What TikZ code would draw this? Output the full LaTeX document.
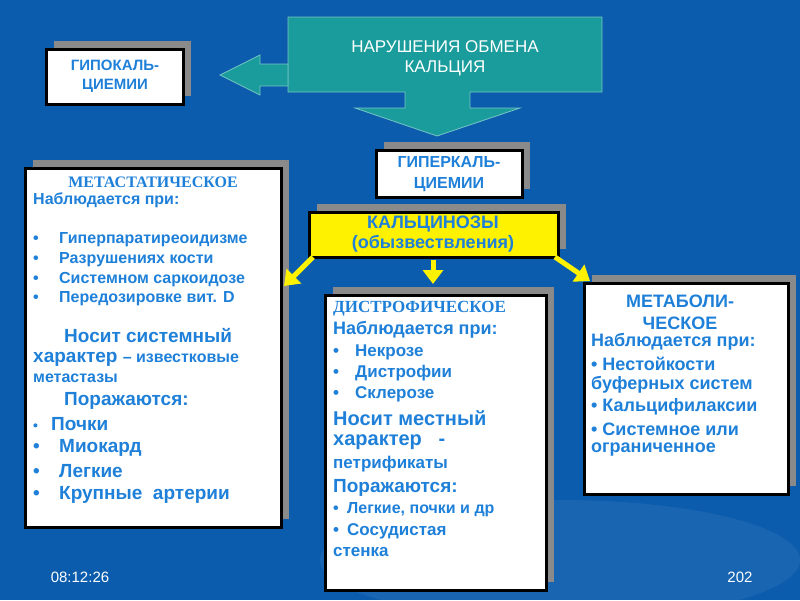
\documentclass[tikz,border=0pt]{standalone}
\usepackage{fontspec}
\setmainfont{Liberation Sans}
\newfontfamily\serifb{Liberation Serif}
\usetikzlibrary{arrows.meta}
\definecolor{bg}{HTML}{0B5CAD}
\definecolor{tx}{HTML}{1E80D8}
\definecolor{teal}{HTML}{1A9C9C}
\definecolor{shd}{HTML}{8A8A8A}
\newcommand{\fs}[1]{\fontsize{#1}{#1}\selectfont}
\begin{document}
\begin{tikzpicture}[x=1pt,y=-1pt,
 box/.style={draw=black,line width=3pt,fill=white},
 sh/.style={fill=shd},
 ya/.style={draw=yellow,line width=5pt,-{Triangle[length=14pt,width=20pt]}},
 l/.style={text=tx,anchor=west,inner sep=0pt,font=\bfseries\fs{16}},
 L/.style={l,font=\bfseries\fs{19}},
 c/.style={text=tx,inner sep=0pt,align=center}]
\useasboundingbox (0,0) rectangle (800,600);
\fill[bg] (0,0) rectangle (800,600);
\begin{scope}
\clip (0,0) rectangle (800,600);
\fill[white,opacity=0.06] (560,560) ellipse (240 and 60);
\end{scope}
% top teal with down arrow
\path[fill=teal,draw=teal!60!white,line width=0.8pt] (288,17) -- (602,17) -- (602,92) -- (470,92) -- (470,108) -- (520,108) -- (437,136) -- (355,108) -- (405,108) -- (405,92) -- (288,92) -- cycle;
\node[text=white,align=center,font=\fs{17},inner sep=0pt] (top) at (445,58) {НАРУШЕНИЯ ОБМЕНА\\[3pt]КАЛЬЦИЯ};
\path[fill=teal,draw=teal!60!white,line width=0.8pt] (288,64) -- (260,64) -- (260,55) -- (220,75) -- (260,95) -- (260,86) -- (288,86) -- cycle;
% hypo
\fill[sh] (54,41) rectangle (191,96);
\draw[box] (46,49) rectangle (183,104);
\node[c,font=\bfseries\fs{15}] (hypo) at (115,76) {ГИПОКАЛЬ-\\[4pt]ЦИЕМИИ};
% hyper
\fill[sh] (384,142) rectangle (530,189);
\draw[box] (376,150) rectangle (522,197);
\node[c,font=\bfseries\fs{16}] (hyper) at (449,174) {ГИПЕРКАЛЬ-\\[5pt]ЦИЕМИИ};
% yellow
\fill[sh] (317,204) rectangle (566,249);
\draw[box,fill=yellow] (309,212) rectangle (558,257);
\coordinate (ysw) at (313,257);
\coordinate (ys) at (433,260);
\coordinate (yse) at (555,257);
\node[c,font=\bfseries\fs{18}] (calc) at (433,234) {КАЛЬЦИНОЗЫ\\[2pt](обызвествления)};
% left
\fill[sh] (33,160) rectangle (289,519);
\draw[box] (25,168) rectangle (281,527);
\coordinate (lb) at (284,286);
\node[c,font=\serifb\bfseries\fs{16}] (lh) at (153,182) {МЕТАСТАТИЧЕСКОЕ};
\node[l] (l1) at (33,200) {Наблюдается при:};
\node[l] (l2) at (33,240) {\makebox[26pt][l]{•}Гиперпаратиреоидизме};
\node[l] (l3) at (33,260) {\makebox[26pt][l]{•}Разрушениях кости};
\node[l] (l4) at (33,280) {\makebox[26pt][l]{•}Системном саркоидозе};
\node[l] (l5) at (33,299) {\makebox[26pt][l]{•}Передозировке вит. D};
\node[L] (l6) at (64,336) {Носит системный};
\node[L] (l7) at (33,359) {характер {\fs{16}– известковые}};
\node[l] (l8) at (33,378) {метастазы};
\node[L] (l9) at (64,401) {Поражаются:};
\node[L] (l10) at (33,424) {\makebox[18pt][l]{\fs{14}•}Почки};
\node[L] (l11) at (33,448) {\makebox[26pt][l]{•}Миокард};
\node[L] (l12) at (33,471) {\makebox[26pt][l]{•}Легкие};
\node[L] (l13) at (33,495) {\makebox[26pt][l]{•}Крупные\ \ артерии};
% middle
\fill[sh] (333,287) rectangle (554,582);
\draw[box] (325,295) rectangle (546,590);
\coordinate (mb) at (433,284);
\node[l,font=\serifb\bfseries\fs{17}] (mh) at (333,309) {ДИСТРОФИЧЕСКОЕ};
\node[L,font=\bfseries\fs{18}] (m1) at (333,330) {Наблюдается при:};
\node[l,font=\bfseries\fs{17}] (m2) at (333,352) {\makebox[22pt][l]{•}Некрозе};
\node[l,font=\bfseries\fs{17}] (m3) at (333,373) {\makebox[22pt][l]{•}Дистрофии};
\node[l,font=\bfseries\fs{17}] (m4) at (333,394) {\makebox[22pt][l]{•}Склерозе};
\node[L,font=\bfseries\fs{20}] (m5) at (333,418) {Носит местный};
\node[L,font=\bfseries\fs{20}] (m6) at (333,442) {характер\ \ \ -};
\node[l,font=\bfseries\fs{17}] (m7) at (333,464) {петрификаты};
\node[L,font=\bfseries\fs{19}] (m8) at (333,488) {Поражаются:};
\node[l,font=\bfseries\fs{16}] (m9) at (333,510) {\makebox[14pt][l]{•}Легкие, почки и др};
\node[l,font=\bfseries\fs{17}] (m10) at (333,531) {\makebox[14pt][l]{•}Сосудистая};
\node[l,font=\bfseries\fs{17}] (m11) at (333,552) {стенка};
% right
\fill[sh] (592,275) rectangle (796,486);
\draw[box] (584,283) rectangle (788,494);
\coordinate (rb) at (590,281);
\node[c,font=\bfseries\fs{18}] (rh) at (680,312) {МЕТАБОЛИ-\\[4pt]ЧЕСКОЕ};
\node[l,font=\bfseries\fs{18}] (r1) at (591,342) {Наблюдается при:};
\node[l,font=\bfseries\fs{18}] (r2) at (591,364) {• Нестойкости};
\node[l,font=\bfseries\fs{18}] (r3) at (591,385) {буферных систем};
\node[l,font=\bfseries\fs{18}] (r4) at (591,407) {• Кальцифилаксии};
\node[l,font=\bfseries\fs{18}] (r5) at (591,429) {• Системное или};
\node[l,font=\bfseries\fs{18}] (r6) at (591,450) {ограниченное};
% arrows
\draw[ya] (ysw) -- (lb);
\draw[ya] (ys) -- (mb);
\draw[ya] (yse) -- (rb);
\node[text=white,font=\fs{15}] (time) at (80,577) {08:12:26};
\node[text=white,font=\fs{15}] (num) at (740,577) {202};
\end{tikzpicture}
\end{document}
